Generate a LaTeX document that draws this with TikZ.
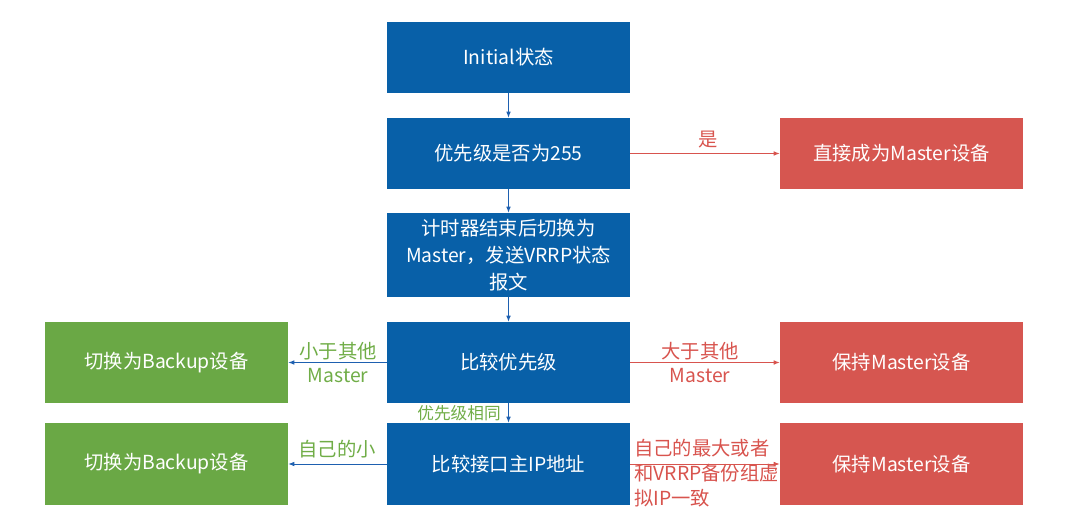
\documentclass[tikz,border=0pt]{standalone}
\usepackage{fontspec}
\setmainfont{Noto Sans CJK SC}
\usetikzlibrary{arrows.meta}
\definecolor{boxblue}{RGB}{8,96,168}
\definecolor{boxred}{RGB}{214,86,80}
\definecolor{boxgreen}{RGB}{106,168,69}
\definecolor{txtgreen}{RGB}{112,173,71}
\definecolor{txtred}{RGB}{216,84,78}
\definecolor{linkblue}{RGB}{30,96,176}
\tikzset{
  box/.style={rectangle, inner sep=0pt, minimum width=182.25pt, text=white,
    font=\fontsize{14.5}{20}\selectfont, align=center},
  bluebox/.style={box, fill=boxblue},
  redbox/.style={box, fill=boxred},
  greenbox/.style={box, fill=boxgreen},
  link/.style={line width=0.75pt, -{Latex[length=4.5pt,width=3.5pt]}},
  bluelink/.style={link, draw=linkblue},
  redlink/.style={link, draw=txtred},
  lbl/.style={inner sep=0pt, font=\fontsize{14.5}{18}\selectfont, align=center},
  greenlbl/.style={lbl, text=txtgreen},
  redlbl/.style={lbl, text=txtred},
}
\begin{document}
\begin{tikzpicture}[x=0.75pt,y=-0.75pt]
\useasboundingbox (0,0) rectangle (1073,510);

% central decision column
\node[bluebox, minimum height=53.25pt] (init) at (508.5,57.5) {Initial状态};
\node[bluebox, minimum height=53.25pt] (prio) at (508.5,153.5) {优先级是否为255};
\node[bluebox, minimum height=63pt] (timer) at (508.5,255) {计时器结束后切换为\\Master，发送VRRP状态\\报文};
\node[bluebox, minimum height=60.75pt] (cmp) at (508.5,362.5) {比较优先级};
\node[bluebox, minimum height=61.5pt] (ip) at (508.5,464) {比较接口主IP地址};

% outcome labels (drawn first so the boxes sit on top)
\node[redlbl] (lyes) at (708,140) {是};
\node[redlbl] (lbig) at (700,363) {大于其他\\Master};
\node[greenlbl] (lsmall) at (338,363) {小于其他\\Master};
\node[greenlbl, font=\fontsize{12.5}{15}\selectfont] (lsame) at (459,413) {优先级相同};
\node[greenlbl] (lless) at (337,449) {自己的小};
\node[redlbl, align=left, anchor=west, font=\fontsize{14.5}{18.75}\selectfont] (lmax) at (634,473) {自己的最大或者\\和VRRP备份组虚\\拟IP一致};

% outcomes
\node[redbox, minimum height=53.25pt] (direct) at (901.5,153.5) {直接成为Master设备};
\node[redbox, minimum height=60.75pt] (keep1) at (901.5,362.5) {保持Master设备};
\node[redbox, minimum height=61.5pt] (keep2) at (901.5,464) {保持Master设备};
\node[greenbox, minimum height=60.75pt] (back1) at (166.5,362.5) {切换为Backup设备};
\node[greenbox, minimum height=61.5pt] (back2) at (166.5,464) {切换为Backup设备};

% connectors
\draw[bluelink] (init) -- (prio);
\draw[bluelink] (prio) -- (timer);
\draw[bluelink] (timer) -- (cmp);
\draw[bluelink] (cmp) -- (ip);
\draw[redlink] (prio) -- (direct);
\draw[redlink] (cmp) -- (keep1);
\draw[redlink] (ip) -- (keep2);
\draw[bluelink] (cmp) -- (back1);
\draw[bluelink] (ip) -- (back2);
\end{tikzpicture}
\end{document}
